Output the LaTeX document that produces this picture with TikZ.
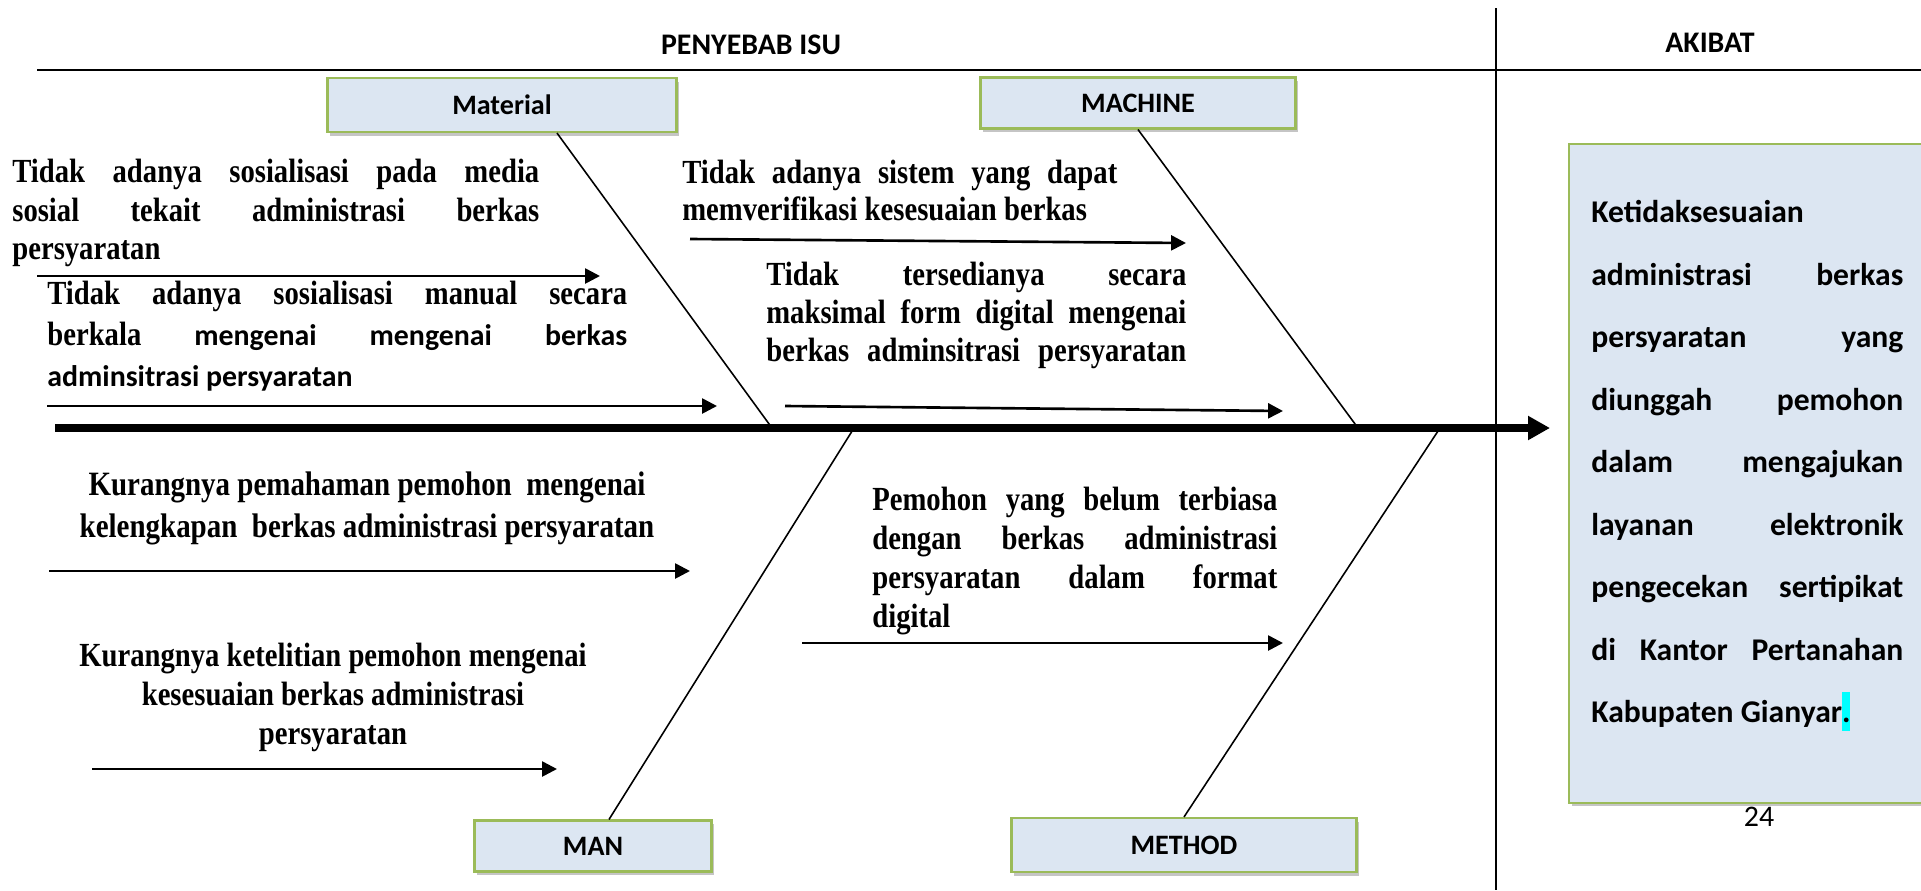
\documentclass[tikz,border=0pt]{standalone}
\usepackage{fontspec}
\usepackage{xcolor}
\setmainfont{Liberation Serif}
\newfontfamily\tnr{Liberation Serif}[FakeStretch=0.85]
\newfontfamily\calib{Carlito}
\usepackage{tikz}
\usetikzlibrary{arrows.meta}
\usetikzlibrary{shadows}
\definecolor{boxfill}{HTML}{DCE6F2}
\definecolor{boxline}{HTML}{9BBB59}
\definecolor{marker}{RGB}{0,255,255}
\newlength\pxu
\setlength\pxu{0.02cm}
\newcommand{\jline}[2]{\hbox to #1{\spaceskip=.25em plus 1fil\relax #2}}
\tikzset{
  bone/.style={draw=black, line width=0.9pt},
  cause/.style={-{Triangle[length=8.5pt,width=8.5pt]}, line width=1.5pt},
  spine/.style={-{Triangle[length=12.5pt,width=13pt]}, line width=4.4pt},
  catbox/.style={rectangle, draw=boxline, fill=boxfill, line width=1.2pt,
    font=\calib\bfseries\fontsize{16}{19}\selectfont,
    drop shadow={shadow xshift=0.05cm, shadow yshift=-0.07cm, fill=black!45, opacity=0.5}},
  causetext/.style={inner sep=0pt, align=left, anchor=north west,
    font=\tnr\bfseries\fontsize{19.2}{21.8}\selectfont},
  head/.style={inner sep=0pt, font=\calib\bfseries\fontsize{17}{20}\selectfont}
}

\begin{document}
\begin{tikzpicture}[x=0.02cm, y=-0.02cm]
\useasboundingbox (0,0) rectangle (1921,890);
% frame
\coordinate (ruleL) at (37,70);
\coordinate (ruleR) at (1921,70);
\coordinate (sepT) at (1496,8);
\coordinate (sepB) at (1496,890);
\draw [line width=1.1pt] (ruleL) -- (ruleR);
\draw [line width=1.1pt] (sepT) -- (sepB);
\node [head] (penyebab) at (751,45) {PENYEBAB ISU};
\node [head] (akibat) at (1710,43) {AKIBAT};

% categories
\node [catbox, minimum width=6.98cm, minimum height=1.08cm] (Material) at (502,105) {Material};
\node [catbox, minimum width=6.3cm, minimum height=1.02cm] (Machine) at (1138,103) {MACHINE};
\node [catbox, minimum width=4.74cm, minimum height=1.02cm] (Man) at (593,846) {MAN};
\node [catbox, minimum width=6.9cm, minimum height=1.08cm] (Method) at (1184,845) {METHOD};

% effect
\node [catbox, minimum width=7.44cm, minimum height=13.18cm, anchor=north west] (effect) at (1568,143) {};
\node [inner sep=0pt, align=left, anchor=north west,
  font=\calib\bfseries\fontsize{18}{35.6}\selectfont] (effecttext) at (1591,200)
  {Ketidaksesuaian\\
   \jline{312\pxu}{administrasi berkas}\\
   \jline{312\pxu}{persyaratan yang}\\
   \jline{312\pxu}{diunggah pemohon}\\
   \jline{312\pxu}{dalam mengajukan}\\
   \jline{312\pxu}{layanan elektronik}\\
   \jline{312\pxu}{pengecekan sertipikat}\\
   \jline{312\pxu}{di Kantor Pertanahan}\\
   Kabupaten Gianyar{\setlength\fboxsep{0pt}\colorbox{marker}{\rule[-.25em]{0pt}{1.22em}.}}};
\node [font=\calib\fontsize{17}{20}\selectfont] (page) at (1759,817) {24};

% spine and bones
\coordinate (tail) at (55,428);
\coordinate (head) at (1550,428);
\coordinate (matFoot) at (772,428);
\coordinate (macFoot) at (1358,428);
\coordinate (manFoot) at (854,428);
\coordinate (metFoot) at (1440,428);
\draw [spine] (tail) -- (head);
\draw [bone] ([xshift=1.1cm]Material.south) -- (matFoot);
\draw [bone] (Machine.south) -- (macFoot);
\draw [bone] ([xshift=0.32cm]Man.north) -- (manFoot);
\draw [bone] (Method.north) -- (metFoot);

% causes
\node [causetext] (matA) at (12,159)
  {\jline{527\pxu}{Tidak adanya sosialisasi pada media}\\
   \jline{527\pxu}{sosial tekait administrasi berkas}\\
   persyaratan};
\node [causetext, font=\tnr\bfseries\fontsize{19.2}{23.3}\selectfont] (matB) at (47,281)
  {\jline{580\pxu}{Tidak adanya sosialisasi manual secara}\\
   \jline{580\pxu}{berkala {\calib\fontsize{17}{20}\selectfont mengenai mengenai berkas}}\\
   {\calib\fontsize{17}{20}\selectfont adminsitrasi persyaratan}};
\node [causetext, font=\tnr\bfseries\fontsize{19.2}{21}\selectfont] (macA) at (682,160)
  {\jline{435\pxu}{Tidak adanya sistem yang dapat}\\
   memverifikasi kesesuaian berkas};
\node [causetext, font=\tnr\bfseries\fontsize{19.2}{21.5}\selectfont] (macB) at (766,262)
  {\jline{420\pxu}{Tidak tersedianya secara}\\
   \jline{420\pxu}{maksimal form digital mengenai}\\
   \jline{420\pxu}{berkas adminsitrasi persyaratan}};
\node [causetext, align=center, anchor=north, font=\tnr\bfseries\fontsize{19.4}{23.9}\selectfont] (manA) at (367,471)
  {Kurangnya pemahaman pemohon \ mengenai\\
   kelengkapan \ berkas administrasi persyaratan};
\node [causetext, align=center, anchor=north, font=\tnr\bfseries\fontsize{19.2}{22.2}\selectfont] (manB) at (333,643)
  {Kurangnya ketelitian pemohon mengenai\\
   kesesuaian berkas administrasi\\
   persyaratan};
\node [causetext, font=\tnr\bfseries\fontsize{19.2}{22.2}\selectfont] (metA) at (872,487)
  {\jline{405\pxu}{Pemohon yang belum terbiasa}\\
   \jline{405\pxu}{dengan berkas administrasi}\\
   \jline{405\pxu}{persyaratan dalam format}\\
   digital};

\foreach \n/\xa/\ya/\xb/\yb in {1/37/276/600/276, 2/47/406/717/406, 3/690/239/1186/243,
  4/785/406/1283/411, 5/49/571/690/571, 6/92/769/557/769, 7/802/643/1283/643}
{
  \coordinate (cs\n) at (\xa,\ya);
  \coordinate (ce\n) at (\xb,\yb);
  \draw [cause] (cs\n) -- (ce\n);
}
\end{tikzpicture}
\end{document}
